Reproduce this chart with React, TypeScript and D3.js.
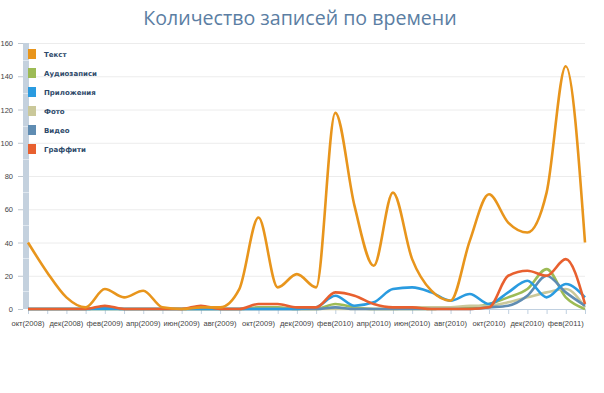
import React, { useEffect, useRef } from 'react';
import * as d3 from 'd3';

// месяцы: окт 2008 .. мар 2011
const months = [
  'окт(2008)', 'ноя(2008)', 'дек(2008)', 'янв(2009)', 'фев(2009)', 'мар(2009)',
  'апр(2009)', 'май(2009)', 'июн(2009)', 'июл(2009)', 'авг(2009)', 'сен(2009)',
  'окт(2009)', 'ноя(2009)', 'дек(2009)', 'янв(2010)', 'фев(2010)', 'мар(2010)',
  'апр(2010)', 'май(2010)', 'июн(2010)', 'июл(2010)', 'авг(2010)', 'сен(2010)',
  'окт(2010)', 'ноя(2010)', 'дек(2010)', 'янв(2011)', 'фев(2011)', 'мар(2011)',
];

const seriesNames = ['Текст', 'Аудиозаписи', 'Приложения', 'Фото', 'Видео', 'Граффити'];
const seriesColors = ['#e8951c', '#9dbb55', '#2a9be0', '#cac89a', '#5f8cb2', '#e8602f'];

const text = [40, 22, 7, 1, 12, 7, 11, 1, 0, 1, 1, 12, 55, 13, 21, 13, 118, 62, 26, 70, 30, 11, 5, 41, 69, 52, 46, 70, 146, 40];
const audio = [0, 0, 0, 0, 0, 0, 0, 0, 0, 0, 0, 0, 1, 1, 0, 0, 3, 1, 0, 0, 0, 0, 1, 1, 3, 7, 12, 24, 7, 0];
const apps = [0, 0, 0, 0, 0, 0, 0, 0, 0, 0, 0, 0, 0, 0, 0, 1, 8, 2, 4, 12, 13, 10, 5, 9, 3, 10, 17, 7, 15, 7];
const photo = [0, 0, 0, 0, 0, 0, 0, 0, 0, 0, 0, 0, 0, 0, 0, 0, 0, 0, 0, 0, 1, 1, 1, 2, 2, 4, 7, 10, 12, 1];
const video = [0, 0, 0, 0, 1, 0, 0, 0, 0, 0, 0, 0, 0, 0, 0, 0, 1, 0, 0, 0, 0, 0, 0, 0, 1, 2, 8, 20, 10, 2];
const graffiti = [0, 0, 0, 0, 2, 0, 0, 0, 0, 2, 0, 0, 3, 3, 1, 1, 10, 8, 3, 1, 1, 0, 0, 0, 1, 20, 23, 20, 30, 3];

const yTicks = [0, 20, 40, 60, 80, 100, 120, 140, 160];

const W = 604;
const H = 393;

export default function App() {
  const ref = useRef<SVGSVGElement>(null);

  useEffect(() => {
    document.body.style.margin = '0';
    const svg = d3.select(ref.current);
    svg.selectAll('*').remove();

    const x = d3.scalePoint<number>().domain(d3.range(months.length)).range([28, 585]);
    const y = d3.scaleLinear().domain([0, 160]).range([309, 43]);

    // title
    svg
      .append('text')
      .attr('x', 300)
      .attr('y', 25)
      .attr('text-anchor', 'middle')
      .attr('font-family', 'Open Sans, sans-serif')
      .attr('font-size', 19.6)
      .attr('fill', '#5b7ea3')
      .text('Количество записей по времени');

    /* ------- GRID + Y AXIS -------*/
    const grid = svg.append('g');
    grid
      .selectAll('line')
      .data(yTicks.filter(d => d > 0))
      .enter()
      .append('line')
      .attr('x1', 28)
      .attr('x2', 585)
      .attr('y1', d => y(d) + 0.5)
      .attr('y2', d => y(d) + 0.5)
      .attr('stroke', '#ececec');

    const yAxis = svg.append('g');
    yAxis
      .selectAll('text')
      .data(yTicks)
      .enter()
      .append('text')
      .attr('x', 13)
      .attr('y', d => y(d) + 3)
      .attr('text-anchor', 'end')
      .attr('font-family', 'Liberation Sans, Arial, sans-serif')
      .attr('font-size', 7.5)
      .attr('fill', '#444')
      .text(d => d);
    yAxis
      .selectAll('line')
      .data(yTicks)
      .enter()
      .append('line')
      .attr('x1', 18)
      .attr('x2', 23)
      .attr('y1', d => y(d) + 0.5)
      .attr('y2', d => y(d) + 0.5)
      .attr('stroke', '#c0c8d0');

    // grey bar along the y axis
    svg
      .append('rect')
      .attr('x', 23)
      .attr('y', 43)
      .attr('width', 6)
      .attr('height', 266)
      .attr('fill', '#c4d1de');
    svg
      .append('g')
      .selectAll('line')
      .data(d3.range(60, 309, 33))
      .enter()
      .append('line')
      .attr('x1', 23)
      .attr('x2', 29)
      .attr('y1', d => d + 0.5)
      .attr('y2', d => d + 0.5)
      .attr('stroke', '#dfe7ef');

    /* ------- X AXIS -------*/
    const xAxis = svg.append('g');
    xAxis
      .append('line')
      .attr('x1', 28)
      .attr('x2', 586)
      .attr('y1', 309.5)
      .attr('y2', 309.5)
      .attr('stroke', '#c0d0e0');
    xAxis
      .selectAll('line.tick')
      .data(d3.range(months.length))
      .enter()
      .append('line')
      .attr('class', 'tick')
      .attr('x1', d => x(d)! + 0.5)
      .attr('x2', d => x(d)! + 0.5)
      .attr('y1', 310)
      .attr('y2', 314)
      .attr('stroke', '#c0d0e0');
    xAxis
      .selectAll('text')
      .data(d3.range(0, months.length, 2))
      .enter()
      .append('text')
      .attr('x', d => x(d)!)
      .attr('y', 326)
      .attr('text-anchor', 'middle')
      .attr('font-family', 'Liberation Sans, Arial, sans-serif')
      .attr('font-size', 7.6)
      .attr('fill', '#444')
      .text(d => months[d]);

    /* ------- LINES -------*/
    const series = [text, audio, apps, photo, video, graffiti];
    const line = d3
      .line<number>()
      .x((d, i) => x(i)!)
      .y(d => y(d))
      .curve(d3.curveMonotoneX);

    const order = [1, 3, 4, 2, 5, 0];
    svg
      .append('g')
      .selectAll('path')
      .data(order)
      .enter()
      .append('path')
      .attr('d', k => line(series[k]))
      .attr('fill', 'none')
      .attr('stroke', k => seriesColors[k])
      .attr('stroke-width', 2.6)
      .attr('stroke-linejoin', 'round');

    /* ------- LEGEND -------*/
    const legend = svg
      .append('g')
      .selectAll('g')
      .data(seriesNames)
      .enter()
      .append('g')
      .attr('transform', (d, i) => `translate(28,${49 + i * 19})`);
    legend
      .append('rect')
      .attr('width', 8)
      .attr('height', 10)
      .attr('fill', (d, i) => seriesColors[i]);
    legend
      .append('text')
      .attr('x', 16)
      .attr('y', 8)
      .attr('font-family', 'DejaVu Sans, sans-serif')
      .attr('font-size', 7)
      .attr('font-weight', 'bold')
      .attr('fill', '#2e4a6a')
      .text(d => d);
  }, []);

  return <svg ref={ref} width={W} height={H} style={{ display: 'block', background: '#fff' }} />;
}
